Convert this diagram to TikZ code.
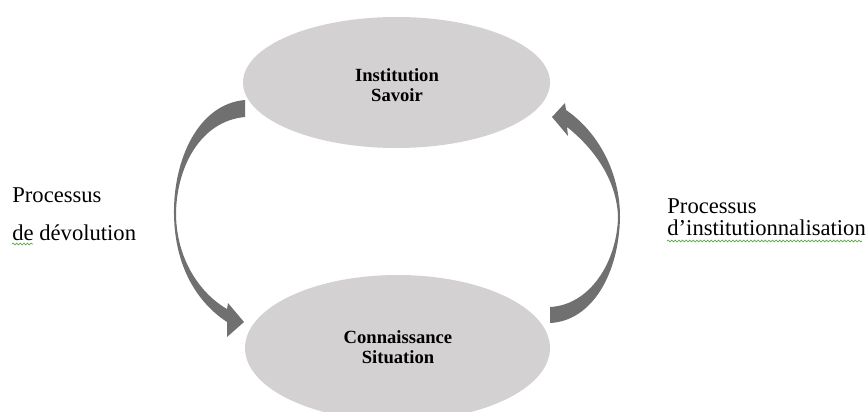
\documentclass[tikz,border=0pt]{standalone}
\usepackage{fontspec}
\setmainfont{Liberation Serif}
\usetikzlibrary{shapes.geometric, decorations.pathmorphing}
\definecolor{ovalgray}{RGB}{211,209,209}
\definecolor{arrowgray}{RGB}{112,112,112}
\definecolor{spellgreen}{RGB}{90,170,70}
\tikzset{
  oval/.style={ellipse, fill=ovalgray, inner sep=0pt, align=center,
    font=\fontsize{9.3}{10}\selectfont\bfseries},
  proc/.style={anchor=base west, inner sep=0pt, font=\fontsize{11.3}{13}\selectfont},
  band/.style={fill=arrowgray, draw=none},
  wavy/.style={draw=spellgreen, line width=0.35pt,
    decorate, decoration={snake, amplitude=0.45pt, segment length=1.8pt}}
}
\begin{document}
\begin{tikzpicture}[x=0.5pt, y=-0.5pt]
            \useasboundingbox (0,0) rectangle (867,412);
            %nodes
            \node[oval, minimum width=153.5pt, minimum height=65.5pt] (inst) at (396.5, 82.5) {};
            \node[oval, minimum width=152.5pt, minimum height=73pt] (conn) at (397.5, 348) {};
            \node[font=\fontsize{9.3}{10}\selectfont\bfseries, align=center] (instlbl) at (397, 85) {Institution\\Savoir};
            \node[font=\fontsize{9.3}{10}\selectfont\bfseries, align=center] (connlbl) at (398, 347) {Connaissance\\Situation};
            \node[proc] (dev1) at (12, 202) {Processus};
            \node[proc] (dev2) at (12, 240) {de dévolution};
            \node[proc] (ins1) at (667, 213) {Processus};
            \node[proc] (ins2) at (667, 235) {d’institutionnalisation};

            %arrows
            \fill[band] (245, 100) .. controls (198, 104) and (173, 160) .. (174, 215)
                .. controls (175, 268) and (198, 303) .. (227, 322)
                -- (227, 337) -- (244, 322) -- (228, 303) -- (227, 309)
                .. controls (204, 296) and (177, 264) .. (176, 215)
                .. controls (176, 168) and (200, 121) .. (245, 117) -- cycle;
            \fill[band] (550, 323) .. controls (592, 321) and (619, 274) .. (620, 217)
                .. controls (620, 172) and (598, 132) .. (566, 110)
                -- (565, 103) -- (552, 117) -- (568, 136) -- (567, 127)
                .. controls (596, 150) and (617, 182) .. (618, 217)
                .. controls (617, 262) and (590, 305) .. (550, 307) -- cycle;

            %spelling marks
            \draw[wavy] (12, 244) -- (33, 244);
            \draw[wavy] (667, 241) -- (862, 241);
        \end{tikzpicture}
\end{document}
